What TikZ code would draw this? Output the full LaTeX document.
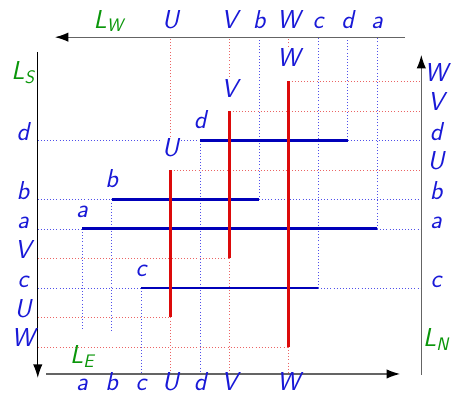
\documentclass[tikz,border=0pt]{standalone}
\usetikzlibrary{arrows.meta}
\definecolor{segblue}{RGB}{0,0,185}
\definecolor{labblue}{RGB}{25,25,215}
\definecolor{segred}{RGB}{220,10,10}
\definecolor{dotblue}{RGB}{80,80,235}
\definecolor{dotred}{RGB}{235,100,100}
\definecolor{lgreen}{RGB}{10,150,10}
\definecolor{axgray}{RGB}{100,100,100}

\begin{document}
\begin{tikzpicture}
\tikzset{hseg/.style={segblue,line width=2.8pt},
  vseg/.style={segred,line width=2.8pt},
  bdot/.style={dotblue,line width=0.8pt,dash pattern=on 0.8pt off 2.2pt},
  rdot/.style={dotred,line width=0.8pt,dash pattern=on 0.8pt off 2.2pt},
  axis/.style={axgray,line width=1.2pt,-{Latex[length=13pt,width=9pt,black]}},
  lab/.style={text=labblue,font=\fontsize{25}{29}\selectfont\sffamily\slshape,inner sep=1pt,anchor=base},
  seglab/.style={lab,fill=white,inner sep=2pt},
  side/.style={text=lgreen,font=\fontsize{25}{29}\selectfont\sffamily\slshape,inner sep=0pt,anchor=base}}

\useasboundingbox (-1.78,-0.63) rectangle (13.54,12.76);

% axes
\coordinate (w0) at (11.95,11.5); \coordinate (w1) at (0.08,11.5);
\coordinate (s0) at (-0.5,11); \coordinate (s1) at (-0.5,-0.05);
\coordinate (e0) at (-0.22,0.085); \coordinate (e1) at (11.78,0.085);
\coordinate (n0) at (12.5,0.05); \coordinate (n1) at (12.5,10.9);

% segment ends
\coordinate (d0) at (5,8); \coordinate (d1) at (10,8);
\coordinate (b0) at (2,6); \coordinate (b1) at (7,6);
\coordinate (a0) at (1,5); \coordinate (a1) at (11,5);
\coordinate (c0) at (3,3); \coordinate (c1) at (9,3);
\coordinate (U0) at (4,2); \coordinate (U1) at (4,7);
\coordinate (V0) at (6,4); \coordinate (V1) at (6,9);
\coordinate (W0) at (8,1); \coordinate (W1) at (8,10);

% segment labels
\path (5,8.42) node[seglab] (dl) {d};
\path (2,6.4) node[seglab] (bl) {b};
\path (1,5.38) node[seglab] (al) {a};
\path (3,3.38) node[seglab] (cl) {c};
\path (4,7.45) node[seglab] (Ul) {U};
\path (6,9.47) node[seglab] (Vl) {V};
\path (8,10.5) node[seglab] (Wl) {W};

% dotted projections, blue
\foreach \s in {d,b,a,c} {
  \draw[bdot] (\s0 -| s0) -- (\s0);
  \draw[bdot] (\s1) -- (\s1 -| n0);
  \draw[bdot] (\s1) -- (\s1 |- w0);
}
\draw[bdot] (d0) -- (d0 |- e0);
\draw[bdot] (c0) -- (c0 |- e0);
\draw[bdot] (b0) -- (2,1.55);
\draw[bdot] (a0) -- (1,1.55);

% dotted projections, red
\foreach \s in {U,V,W} {
  \draw[rdot] (\s0 -| s0) -- (\s0);
  \draw[rdot] (\s0) -- (\s0 |- e0);
  \draw[rdot] (\s1) -- (\s1 -| n0);
  \draw[rdot] (\s l.north) -- (\s l.north |- w0);
}

% segments
\foreach \s in {d,b,a,c} \draw[hseg] (\s0) -- (\s1);
\foreach \s in {U,V,W} \draw[vseg] (\s0) -- (\s1);

% redraw labels over dots
\path (5,8.42) node[seglab] {d};
\path (4,7.45) node[seglab] {U};

\draw[axis] (w0) -- (w1);
\draw[axis,black] (s0) -- (s1);
\draw[axis] (e0) -- (e1);
\draw[axis] (n0) -- (n1);

% top
\path (4,11.81) node[lab] (tU) {U};
\path (6,11.81) node[lab] (tV) {V};
\path (7,11.81) node[lab] (tb) {b};
\path (8,11.81) node[lab] (tW) {W};
\path (9,11.81) node[lab] (tc) {c};
\path (10,11.81) node[lab] (td) {d};
\path (11,11.81) node[lab] (ta) {a};
% bottom
\path (1,-0.47) node[lab,inner sep=0pt] (ba) {a};
\path (2,-0.47) node[lab,inner sep=0pt] (bb) {b};
\path (3,-0.47) node[lab,inner sep=0pt] (bc) {c};
\path (4,-0.47) node[lab,inner sep=0pt] (bU) {U};
\path (5,-0.47) node[lab,inner sep=0pt] (bd) {d};
\path (6,-0.47) node[lab,inner sep=0pt] (bV) {V};
\path (8,-0.47) node[lab,inner sep=0pt] (bW) {W};
% left
\path (-1,8) node[lab] (ld) {d};
\path (-1,6) node[lab] (lb) {b};
\path (-1,5) node[lab] (la) {a};
\path (-1,4) node[lab] (lV) {V};
\path (-1,3) node[lab] (lc) {c};
\path (-1,2) node[lab] (lU) {U};
\path (-1,1) node[lab] (lW) {W};
% right
\path (13,10) node[lab] (rW) {W};
\path (13,9) node[lab] (rV) {V};
\path (13,8) node[lab] (rd) {d};
\path (13,7) node[lab] (rU) {U};
\path (13,6) node[lab] (rb) {b};
\path (13,5) node[lab] (ra) {a};
\path (13,3) node[lab] (rc) {c};

\path (1.9,11.81) node[side] (LW) {L\textsubscript{W}};
\path (-1,10.05) node[side] (LS) {L\textsubscript{S}};
\path (1,0.45) node[side] (LE) {L\textsubscript{E}};
\path (13,1) node[side] (LN) {L\textsubscript{N}};
\end{tikzpicture}
\end{document}
